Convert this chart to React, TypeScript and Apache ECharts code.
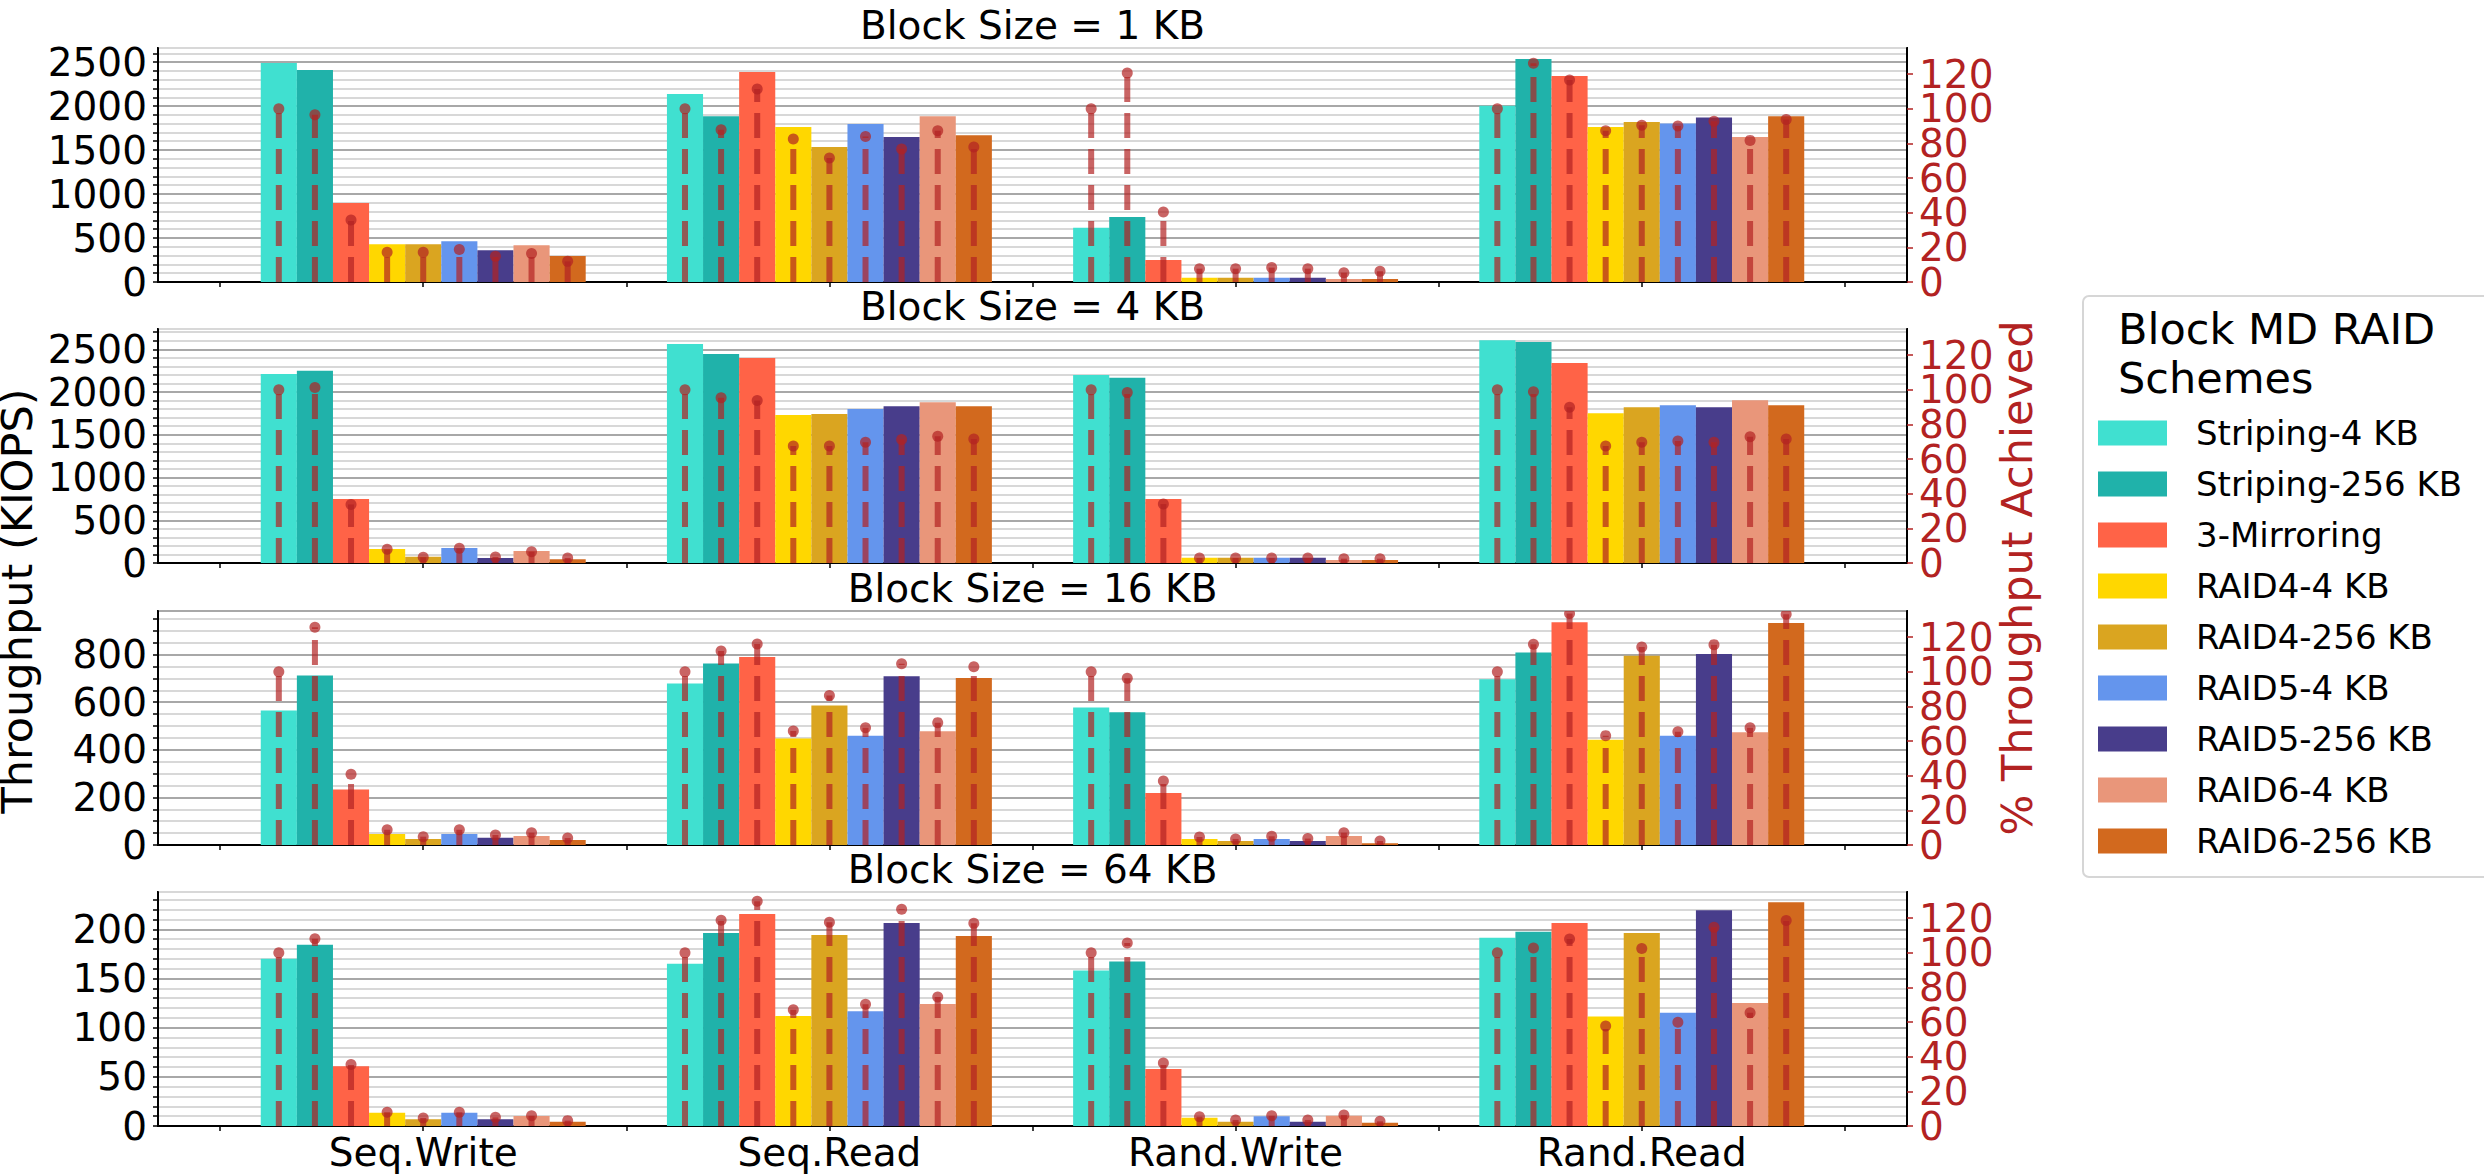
import React, { useEffect, useRef } from 'react';
import * as echarts from 'echarts';

const categories = ['Seq.Write', 'Seq.Read', 'Rand.Write', 'Rand.Read'];
const schemes = [
  'Striping-4 KB', 'Striping-256 KB', '3-Mirroring', 'RAID4-4 KB', 'RAID4-256 KB',
  'RAID5-4 KB', 'RAID5-256 KB', 'RAID6-4 KB', 'RAID6-256 KB',
];
const colors = ['#40E0D0', '#20B2AA', '#FF6347', '#FFD700', '#DAA520', '#6495ED', '#483D8B', '#E9967A', '#D2691E'];
const blockSizes = ['1 KB', '4 KB', '16 KB', '64 KB'];

// Throughput (KIOPS), one row per scheme, columns follow categories
const kiops1KB = [
  [2490, 2136, 617, 2004],
  [2410, 1883, 739, 2534],
  [898, 2386, 250, 2341],
  [428, 1761, 49, 1761],
  [428, 1534, 49, 1818],
  [462, 1795, 49, 1803],
  [360, 1648, 49, 1871],
  [417, 1883, 34, 1648],
  [295, 1667, 34, 1883],
];
const kiops4KB = [
  [2211, 2562, 2200, 2605],
  [2250, 2445, 2168, 2586],
  [749, 2399, 749, 2340],
  [164, 1732, 62, 1751],
  [74, 1743, 62, 1821],
  [176, 1802, 62, 1845],
  [58, 1833, 62, 1821],
  [140, 1880, 35, 1903],
  [43, 1833, 35, 1845],
];
const kiops16KB = [
  [565, 678, 578, 696],
  [712, 762, 558, 809],
  [233, 790, 218, 936],
  [46, 447, 25, 442],
  [25, 586, 17, 795],
  [46, 459, 25, 459],
  [30, 709, 17, 802],
  [38, 478, 38, 474],
  [21, 702, 7, 933],
];
const kiops64KB = [
  [170, 165, 158.2, 191.5],
  [184.4, 196.3, 167.4, 197.6],
  [60.8, 215.6, 58, 206.5],
  [13.6, 112, 8.5, 111.4],
  [6.8, 194.2, 4.4, 196.3],
  [13.6, 116.8, 9.8, 115.1],
  [6.8, 206.5, 4.4, 219.4],
  [10.2, 124, 10.5, 125],
  [4.4, 193.2, 3.4, 227.5],
];

// % Throughput achieved
const pct1KB = [
  [100, 100, 100, 100],
  [96.5, 87.9, 120.6, 126.2],
  [35.8, 111.3, 40.4, 116.5],
  [17.1, 82.5, 7.7, 87.3],
  [17.1, 71.5, 7.7, 90.4],
  [18.8, 84.0, 8.3, 90.0],
  [14.8, 76.7, 7.7, 92.7],
  [16.5, 87.3, 5.4, 81.7],
  [11.9, 77.9, 6.2, 93.8],
];
const pct4KB = [
  [100, 100, 100, 100],
  [101.2, 95.4, 98.3, 98.8],
  [33.8, 93.7, 34.0, 89.8],
  [7.9, 67.5, 2.9, 67.5],
  [3.3, 67.5, 2.9, 69.6],
  [8.5, 69.6, 2.9, 70.4],
  [3.5, 71.3, 2.9, 69.6],
  [6.5, 73.1, 2.5, 72.9],
  [2.9, 71.5, 2.5, 71.5],
];
const pct16KB = [
  [100, 100, 100, 100],
  [125.6, 111.9, 96.2, 115.8],
  [40.8, 116.0, 36.9, 133.5],
  [8.8, 65.8, 4.6, 63.1],
  [4.8, 86.3, 3.5, 114.2],
  [8.8, 67.7, 5.0, 65.4],
  [5.8, 104.6, 3.7, 115.6],
  [7.1, 70.6, 7.1, 67.7],
  [4.0, 102.9, 2.3, 133.1],
];
const pct64KB = [
  [100, 100, 100, 100],
  [108, 118.7, 105.6, 102.7],
  [35.5, 129.6, 36.4, 107.9],
  [7.9, 67.1, 5.4, 57.7],
  [4.6, 117.5, 3.5, 102.4],
  [7.9, 70.3, 5.9, 59.8],
  [5.0, 125.0, 3.5, 114.6],
  [5.9, 74.4, 6.3, 65.4],
  [3.1, 116.9, 2.7, 118.5],
];

const kiopsPanels = [kiops1KB, kiops4KB, kiops16KB, kiops64KB];
const pctPanels = [pct1KB, pct4KB, pct16KB, pct64KB];
const leftMax = [2660, 2737, 983, 238];
const leftMinorStep = [100, 100, 50, 10];
const leftMajorStep = [500, 500, 200, 50];
const rightMax = 135;
const rightStep = 20;

const FONT = 'DejaVu Sans';
const GRID_LEFT = 158;
const GRID_WIDTH = 1749;
const GRID_TOPS = [48, 329, 611, 892];
const GRID_HEIGHT = 234;
const X_MIN = -0.653;
const X_MAX = 3.653;
const BW = 0.8 / 9;
const STEM = 'rgba(178,34,34,0.7)';
const RED = '#b22222';

function buildOption() {
  const grid: any[] = [];
  const xAxis: any[] = [];
  const yAxis: any[] = [];
  const series: any[] = [];
  const graphic: any[] = [];

  for (let p = 0; p < 4; p++) {
    grid.push({
      left: GRID_LEFT, top: GRID_TOPS[p], width: GRID_WIDTH, height: GRID_HEIGHT,
      show: true, borderColor: '#000', borderWidth: 2, backgroundColor: 'transparent',
    });
    const isLast = p === 3;
    xAxis.push({
      type: 'value', gridIndex: p, min: X_MIN, max: X_MAX,
      axisLine: { show: true, onZero: false, lineStyle: { color: '#000', width: 2 } },
      axisTick: {
        show: true, length: 5, lineStyle: { color: '#000', width: 1.5 },
        customValues: [-0.5, 0, 0.5, 1, 1.5, 2, 2.5, 3, 3.5],
      },
      axisLabel: {
        show: isLast, fontSize: 39, fontFamily: FONT, color: '#000', margin: 7,
        customValues: [0, 1, 2, 3],
        formatter: (v: number) => (Math.abs(v - Math.round(v)) < 1e-6 && categories[Math.round(v)]) || '',
      },
      splitLine: { show: false },
    });
    const k = leftMajorStep[p] / leftMinorStep[p];
    const lineColors = ['#a8a8a8'];
    for (let i = 1; i < k; i++) lineColors.push('#d8d8d8');
    const major = leftMajorStep[p];
    // left axis (KIOPS)
    yAxis.push({
      type: 'value', gridIndex: p, position: 'left', min: 0, max: leftMax[p], interval: leftMinorStep[p],
      axisLine: { show: true, onZero: false, lineStyle: { color: '#000', width: 2 } },
      axisTick: { show: true, length: 5, lineStyle: { color: '#000', width: 1.5 } },
      axisLabel: {
        fontSize: 39, lineHeight: 30, fontFamily: FONT, color: '#000', margin: 11, showMaxLabel: false, showMinLabel: true,
        formatter: (v: number) => (Math.abs(v % major) < 1e-6 ? String(v) : ''),
      },
      splitLine: { show: true, lineStyle: { color: lineColors, width: 2 } },
    });
    // right axis (% achieved), labels 20..120
    yAxis.push({
      type: 'value', gridIndex: p, position: 'right', min: 0, max: rightMax, interval: rightStep,
      axisLine: { show: true, onZero: false, lineStyle: { color: '#000', width: 2 } },
      axisTick: { show: true, length: 6, lineStyle: { color: RED, width: 1.5 } },
      axisLabel: {
        fontSize: 39, lineHeight: 30, fontFamily: FONT, color: RED, margin: 12,
        showMaxLabel: false, showMinLabel: false,
        formatter: (v: number) => (v > 125 ? '' : String(v)),
      },
      splitLine: { show: false },
    });
    // right axis companion carrying only the "0" label
    yAxis.push({
      type: 'value', gridIndex: p, position: 'right', min: 0, max: rightMax, interval: rightMax,
      axisLine: { show: false, onZero: false },
      axisTick: { show: true, length: 6, lineStyle: { color: RED, width: 1.5 } },
      axisLabel: {
        fontSize: 39, fontFamily: FONT, color: RED, margin: 12,
        showMaxLabel: false, showMinLabel: true,
        formatter: (v: number) => (v === 0 ? '0' : ''),
      },
      splitLine: { show: false },
    });

    for (let j = 0; j < schemes.length; j++) {
      const color = colors[j];
      series.push({
        type: 'custom', name: schemes[j], xAxisIndex: p, yAxisIndex: 3 * p,
        itemStyle: { color },
        encode: { x: 0, y: 1 },
        data: categories.map((_, c) => [c + (j - 4) * BW, kiopsPanels[p][j][c]]),
        renderItem: (params: any, api: any) => {
          const x = api.value(0);
          const v = api.value(1);
          const a = api.coord([x - BW / 2, 0]);
          const b = api.coord([x + BW / 2, v]);
          return {
            type: 'rect',
            shape: { x: a[0], y: b[1], width: b[0] - a[0], height: a[1] - b[1] },
            style: { fill: color },
          };
        },
        z: 2,
      });
    }

    const lolli: any[] = [];
    for (let j = 0; j < schemes.length; j++) {
      for (let c = 0; c < categories.length; c++) {
        lolli.push([c + (j - 4) * BW, pctPanels[p][j][c]]);
      }
    }
    series.push({
      type: 'custom', name: '% achieved ' + blockSizes[p], xAxisIndex: p, yAxisIndex: 3 * p + 1,
      clip: true, z: 5,
      encode: { x: 0, y: 1 },
      data: lolli,
      renderItem: (params: any, api: any) => {
        const x = api.value(0);
        const v = api.value(1);
        const a = api.coord([x, 0]);
        const b = api.coord([x, v]);
        return {
          type: 'group',
          children: [
            {
              type: 'line',
              shape: { x1: a[0], y1: a[1], x2: b[0], y2: b[1] },
              style: { stroke: STEM, lineWidth: 6, lineDash: [25, 11] },
            },
            { type: 'circle', shape: { cx: b[0], cy: b[1], r: 5.5 }, style: { fill: STEM } },
          ],
        };
      },
    });

    graphic.push({
      type: 'text', x: GRID_LEFT + GRID_WIDTH / 2, y: GRID_TOPS[p] - 23,
      style: {
        text: 'Block Size = ' + blockSizes[p], font: `39px "${FONT}"`, fill: '#000',
        align: 'center', verticalAlign: 'middle',
      },
    });
  }

  graphic.push({
    type: 'text', x: 17, y: 601, rotation: Math.PI / 2,
    style: { text: 'Throughput (KIOPS)', font: `43px "${FONT}"`, fill: '#000', align: 'center', verticalAlign: 'middle' },
  });
  graphic.push({
    type: 'text', x: 2017, y: 578, rotation: Math.PI / 2,
    style: { text: '% Throughput Achieved', font: `43px "${FONT}"`, fill: RED, align: 'center', verticalAlign: 'middle' },
  });
  graphic.push({
    type: 'rect', z: 0,
    shape: { x: 2083, y: 296, width: 420, height: 581, r: 6 },
    style: { fill: '#fff', stroke: '#d6d6d6', lineWidth: 2 },
  });
  graphic.push({
    type: 'text', x: 2118, y: 329, z: 1,
    style: { text: 'Block MD RAID', font: `43px "${FONT}"`, fill: '#000', align: 'left', verticalAlign: 'middle' },
  });
  graphic.push({
    type: 'text', x: 2118, y: 378, z: 1,
    style: { text: 'Schemes', font: `43px "${FONT}"`, fill: '#000', align: 'left', verticalAlign: 'middle' },
  });

  return {
    animation: false,
    backgroundColor: '#fff',
    textStyle: { fontFamily: FONT },
    grid, xAxis, yAxis, series, graphic,
    legend: {
      data: schemes, orient: 'vertical', left: 2098, top: 416, padding: 0, z: 10,
      itemWidth: 69, itemHeight: 25, itemGap: 17, icon: 'rect', selectedMode: false,
      textStyle: { fontSize: 34, fontFamily: FONT, color: '#000', lineHeight: 34, padding: [0, 0, 0, 24] },
    },
  };
}

export default function App() {
  const ref = useRef<HTMLDivElement>(null);
  useEffect(() => {
    document.body.style.margin = '0';
    const chart = echarts.init(ref.current!, undefined, { renderer: 'svg' });
    chart.setOption(buildOption() as any);
    return () => chart.dispose();
  }, []);
  return <div ref={ref} style={{ position: 'fixed', left: 0, top: 0, width: 2484, height: 1174 }} />;
}
